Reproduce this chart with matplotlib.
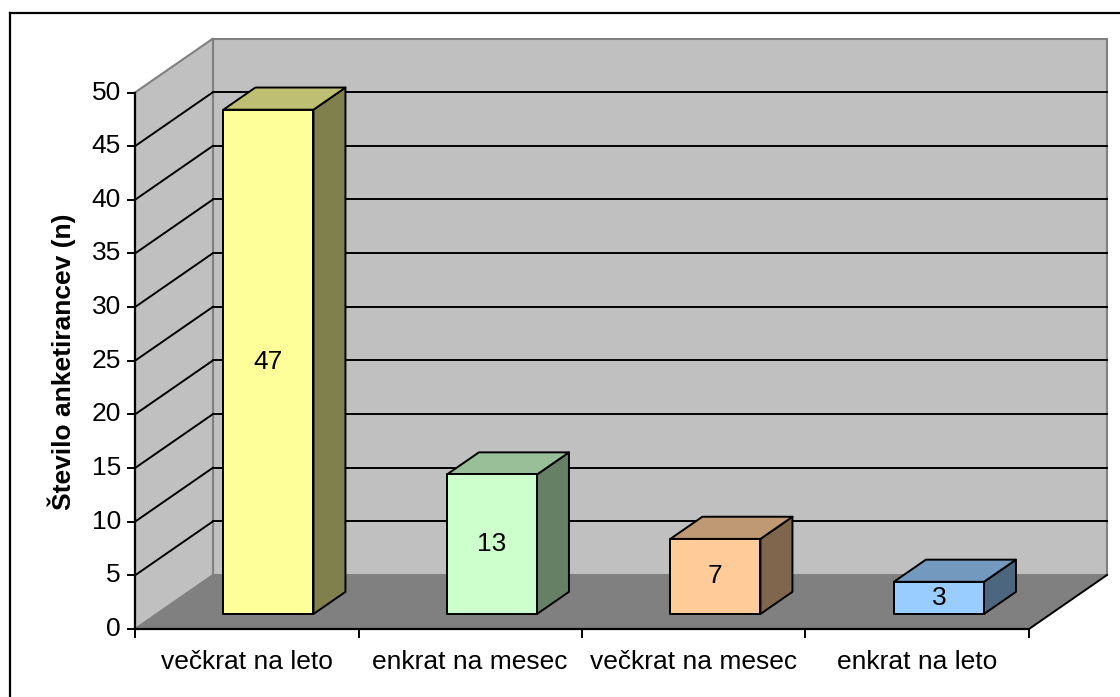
import matplotlib.pyplot as plt
from matplotlib.patches import Polygon
from matplotlib.lines import Line2D

plt.rcParams["font.family"] = ["Liberation Sans", "DejaVu Sans"]

CATEGORIES = ["večkrat na leto", "enkrat na mesec", "večkrat na mesec", "enkrat na leto"]
VALUES = [47, 13, 7, 3]
FRONT_COLORS = ["#FFFF99", "#CCFFCC", "#FFCC99", "#99CCFF"]
TOP_COLORS = ["#BFBF73", "#99BF99", "#BF9973", "#7399BF"]
SIDE_COLORS = ["#80804D", "#668066", "#80664D", "#4D6680"]
Y_TICKS = list(range(0, 55, 5))
Y_LABEL = "Število anketirancev (n)"

# pseudo-3d geometry (category units on x, value units on y)
W_PX, H_PX = 1120, 697
PX_PER_CAT = 223.5
PX_PER_VAL = 10.73
ORIGIN_X, ORIGIN_Y = 135, 629
DEPTH_X = 78 / PX_PER_CAT
DEPTH_Y = 54 / PX_PER_VAL
Y_MAX = 50
BAR_W = 0.403
Z_FRONT = 0.278
Z_DEPTH = 0.41
FS = 19

fig = plt.figure(figsize=(W_PX / 100, H_PX / 100), dpi=100)
ax = fig.add_axes([0, 0, 1, 1])
ax.set_xlim(-ORIGIN_X / PX_PER_CAT, (W_PX - ORIGIN_X) / PX_PER_CAT)
ax.set_ylim(-(H_PX - ORIGIN_Y) / PX_PER_VAL, ORIGIN_Y / PX_PER_VAL)
ax.axis("off")

n = len(CATEGORIES)
wall_edge = "#808080"

# floor
ax.add_patch(Polygon([(0, 0), (n, 0), (n + DEPTH_X, DEPTH_Y), (DEPTH_X, DEPTH_Y)],
                     closed=True, facecolor="#808080", edgecolor="none", zorder=1))
# back wall
ax.add_patch(Polygon([(DEPTH_X, DEPTH_Y), (n + DEPTH_X, DEPTH_Y),
                      (n + DEPTH_X, Y_MAX + DEPTH_Y), (DEPTH_X, Y_MAX + DEPTH_Y)],
                     closed=True, facecolor="#C0C0C0", edgecolor=wall_edge, linewidth=1.5, zorder=1))
# side wall
ax.add_patch(Polygon([(0, 0), (DEPTH_X, DEPTH_Y), (DEPTH_X, Y_MAX + DEPTH_Y), (0, Y_MAX)],
                     closed=True, facecolor="#C0C0C0", edgecolor=wall_edge, linewidth=1.5, zorder=1))

# gridlines
for v in Y_TICKS[1:-1]:
    ax.plot([DEPTH_X, n + DEPTH_X], [v + DEPTH_Y, v + DEPTH_Y], color="black", lw=1.4, zorder=2)
    ax.plot([0, DEPTH_X], [v, v + DEPTH_Y], color="black", lw=1.4, zorder=2)

# axes lines
ax.plot([0, 0], [0, Y_MAX], color="black", lw=1.6, zorder=3)
ax.plot([0, n], [0, 0], color="black", lw=1.6, zorder=3)
ax.plot([n, n + DEPTH_X], [0, DEPTH_Y], color="black", lw=1.4, zorder=3)

tick_x = 7 / PX_PER_CAT
tick_y = 8 / PX_PER_VAL
for v in Y_TICKS:
    ax.plot([-tick_x, 0], [v, v], color="black", lw=1.4, zorder=3)
    ax.text(-14 / PX_PER_CAT, v, str(v), ha="right", va="center", fontsize=FS)
for i in range(n + 1):
    ax.plot([i, i], [0, -tick_y], color="black", lw=1.4, zorder=3)

for i, label in enumerate(CATEGORIES):
    ax.text(i + 0.5, -3.1, label, ha="center", va="center", fontsize=FS)

ax.text(-73 / PX_PER_CAT, 24.9, Y_LABEL, rotation=90, ha="center", va="center",
        fontsize=FS, fontweight="bold")

# bars
ddx = Z_DEPTH * DEPTH_X
ddy = Z_DEPTH * DEPTH_Y
for i, v in enumerate(VALUES):
    x0 = i + 0.5 - BAR_W / 2 + Z_FRONT * DEPTH_X
    x1 = x0 + BAR_W
    y0 = Z_FRONT * DEPTH_Y
    y1 = y0 + v
    front = [(x0, y0), (x1, y0), (x1, y1), (x0, y1)]
    top = [(x0, y1), (x1, y1), (x1 + ddx, y1 + ddy), (x0 + ddx, y1 + ddy)]
    side = [(x1, y0), (x1 + ddx, y0 + ddy), (x1 + ddx, y1 + ddy), (x1, y1)]
    for pts, col in ((side, SIDE_COLORS[i]), (top, TOP_COLORS[i]), (front, FRONT_COLORS[i])):
        ax.add_patch(Polygon(pts, closed=True, facecolor=col, edgecolor="black",
                             linewidth=1.4, joinstyle="round", zorder=4))
    ax.text((x0 + x1) / 2, (y0 + y1) / 2, str(v), ha="center", va="center",
            fontsize=FS, zorder=5)

# outer chart frame (left and top only visible)
fx = 10 / W_PX
fy = 1 - 13 / H_PX
fig.add_artist(Line2D([fx, fx], [0, fy], transform=fig.transFigure, color="black", lw=1.6))
fig.add_artist(Line2D([fx, 1], [fy, fy], transform=fig.transFigure, color="black", lw=1.6))

fig.savefig("out.png", dpi=100)
